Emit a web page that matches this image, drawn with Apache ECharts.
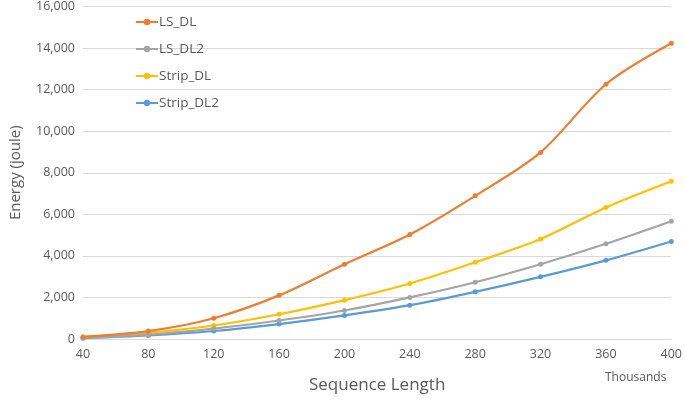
<!DOCTYPE html>
<html><head><meta charset="utf-8">
<script src="https://cdn.jsdelivr.net/npm/echarts@6/dist/echarts.min.js"></script>
<style>html,body{margin:0;padding:0;background:#fff}#c{width:685px;height:402px}</style>
</head><body><div id="c"></div>
<script>
var xValues = [40, 80, 120, 160, 200, 240, 280, 320, 360, 400];
var lsDL = [100, 380, 1000, 2100, 3600, 5030, 6890, 8980, 12260, 14230];
var lsDL2 = [60, 210, 500, 890, 1370, 2000, 2730, 3600, 4580, 5670];
var stripDL = [100, 300, 650, 1190, 1870, 2670, 3690, 4810, 6330, 7590];
var stripDL2 = [40, 170, 385, 720, 1135, 1630, 2270, 2990, 3785, 4695];
var seriesNames = ['LS_DL', 'LS_DL2', 'Strip_DL', 'Strip_DL2'];
var seriesColors = ['#ED7D31', '#A5A5A5', '#FFC000', '#5B9BD5'];
var allData = [lsDL, lsDL2, stripDL, stripDL2];

var font = 'Open Sans';
var chart = echarts.init(document.getElementById('c'));
chart.setOption({
  animation: false,
  textStyle: {fontFamily: font},
  grid: {left: 71, right: 12, top: 5, bottom: 63, containLabel: false},
  legend: {
    orient: 'vertical', left: 130, top: 8, itemGap: 9, itemWidth: 22, itemHeight: 8,
    data: seriesNames,
    textStyle: {color: '#595959', fontSize: 13.5, lineHeight: 18, fontFamily: font, padding: [0,0,0,-4]}
  },
  graphic: [{type: 'text', left: 605, top: 372, style: {text: 'Thousands', fill: '#595959', font: '12px "Open Sans"'}}],
  xAxis: {
    type: 'value', min: 40, max: 400, interval: 40,
    name: 'Sequence Length', nameLocation: 'middle', nameGap: 38,
    nameTextStyle: {color: '#595959', fontSize: 17, fontFamily: font},
    axisLine: {show: true, lineStyle: {color: '#D9D9D9'}},
    axisTick: {show: false},
    splitLine: {show: false},
    axisLabel: {color: '#595959', fontSize: 12.5, margin: 9, showMinLabel: true, showMaxLabel: true}
  },
  yAxis: {
    type: 'value', min: 0, max: 16000, interval: 2000,
    name: 'Energy (joule)', nameLocation: 'middle', nameGap: 60, nameRotate: 90,
    nameTextStyle: {color: '#595959', fontSize: 15, fontFamily: font},
    axisLine: {show: false}, axisTick: {show: false},
    splitLine: {lineStyle: {color: '#D9D9D9'}},
    axisLabel: {color: '#595959', fontSize: 12.5, margin: 8,
      formatter: function (v) { return v.toLocaleString('en-US'); }}
  },
  series: seriesNames.map(function (n, i) {
    return {
      name: n, type: 'line', smooth: 0.3,
      data: xValues.map(function (x, j) { return [x, allData[i][j]]; }),
      symbol: 'circle', symbolSize: 5,
      lineStyle: {width: 2.2, color: seriesColors[i]},
      itemStyle: {color: seriesColors[i]},
      z: 10 - i
    };
  })
});
</script></body></html>
